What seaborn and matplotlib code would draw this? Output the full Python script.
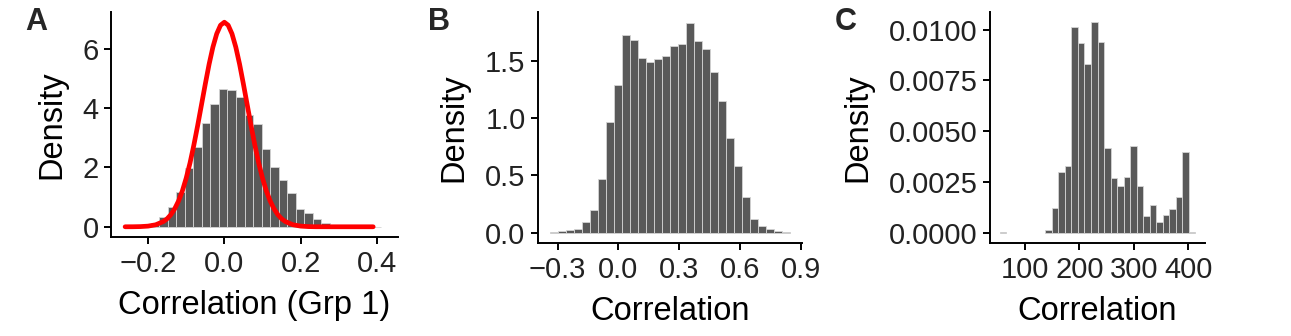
import matplotlib
matplotlib.use("Agg")
import matplotlib.pyplot as plt
import matplotlib.ticker as mticker
import numpy as np
import pandas as pd
import seaborn as sns

# ## Histogram values (density per bin, 30 bins each)

# Panel A: null correlations, group 1
a_range = (-0.2607, 0.4113)
a_density = [
    0.005, 0.01, 0.04, 0.14, 0.32, 0.66, 1.16, 1.97, 2.70, 3.51,
    4.15, 4.65, 4.62, 4.37, 3.76, 3.48, 2.61, 2.02, 1.57, 1.15,
    0.61, 0.46, 0.26, 0.12, 0.05, 0.02, 0.01, 0.005, 0.002, 0.002,
]
# red reference curve in panel A
curve_x = [
    -0.26, -0.24, -0.22, -0.20, -0.18, -0.16, -0.15, -0.14, -0.13, -0.12,
    -0.11, -0.10, -0.09, -0.08, -0.07, -0.06, -0.05, -0.04, -0.03, -0.02,
    -0.01, 0.00, 0.01, 0.02, 0.03, 0.04, 0.05, 0.06, 0.07, 0.08,
    0.09, 0.10, 0.11, 0.12, 0.13, 0.14, 0.15, 0.16, 0.18, 0.20,
    0.22, 0.24, 0.28, 0.32, 0.36, 0.39,
]
curve_y = [
    0.0, 0.001, 0.006, 0.022, 0.067, 0.175, 0.27, 0.41, 0.61, 0.87,
    1.21, 1.64, 2.15, 2.75, 3.41, 4.11, 4.81, 5.48, 6.06, 6.51,
    6.80, 6.90, 6.80, 6.51, 6.06, 5.48, 4.81, 4.11, 3.41, 2.75,
    2.15, 1.64, 1.21, 0.87, 0.61, 0.41, 0.27, 0.175, 0.067, 0.022,
    0.006, 0.001, 0.0, 0.0, 0.0, 0.0,
]

# Panel B: correlations
b_range = (-0.3375, 0.8475)
b_density = [
    0.003, 0.01, 0.02, 0.03, 0.09, 0.20, 0.47, 0.97, 1.29, 1.73,
    1.69, 1.53, 1.49, 1.52, 1.55, 1.63, 1.65, 1.84, 1.68, 1.61,
    1.41, 1.15, 0.83, 0.58, 0.31, 0.12, 0.06, 0.03, 0.01, 0.003,
]

# Panel C
c_range = (54.2, 412.4)
c_density = [
    0.00004, 0.0, 0.0, 0.0, 0.0, 0.0, 0.0, 0.00012, 0.00121, 0.00297,
    0.00326, 0.01016, 0.00934, 0.00831, 0.01036, 0.00939, 0.00418, 0.00268, 0.00228, 0.00276,
    0.00428, 0.00227, 0.00079, 0.00137, 0.00053, 0.00088, 0.00116, 0.00177, 0.00397, 0.00003,
]

sns.set_theme(style="ticks")
plt.rcParams["font.family"] = ["Liberation Sans", "DejaVu Sans"]
plt.rcParams.update({
    "axes.linewidth": 1.4,
    "xtick.major.width": 1.4,
    "ytick.major.width": 1.4,
    "xtick.major.size": 5,
    "ytick.major.size": 5,
    "xtick.major.pad": 4,
    "ytick.major.pad": 4,
    "xtick.labelsize": 21,
    "ytick.labelsize": 21,
    "xtick.color": "black",
    "ytick.color": "black",
    "xtick.labelcolor": "#222222",
    "ytick.labelcolor": "#222222",
    "axes.edgecolor": "black",
    "axes.labelcolor": "black",
    "axes.labelsize": 23.5,
    "axes.labelpad": 9,
})

W, H = 1291, 336
fig = plt.figure(figsize=(W / 100, H / 100), dpi=100)


def px_axes(left, right, top, bottom):
    return fig.add_axes([left / W, 1 - bottom / H, (right - left) / W, (bottom - top) / H])


def hist_panel(ax, rng, dens):
    edges = np.linspace(rng[0], rng[1], len(dens) + 1)
    centers = (edges[:-1] + edges[1:]) / 2
    d = pd.DataFrame({"x": centers, "w": dens})
    sns.histplot(
        data=d, x="x", weights="w", bins=len(dens), binrange=rng, stat="count",
        color="#595959", edgecolor="#d4d4d4", linewidth=0.6, alpha=1, ax=ax,
    )
    # empty bins: no outline
    for p in ax.patches:
        if p.get_height() == 0:
            p.set_linewidth(0)
    lo, hi = rng
    pad = (hi - lo) * 0.05
    ax.set_xlim(lo - pad, hi + pad)
    top = max(dens)
    ax.set_ylim(-top * 0.05, top * 1.05)
    ax.set_ylabel("Density", labelpad=11)
    sns.despine(ax=ax)


# A
ax_a = px_axes(111, 398, 12, 237)
hist_panel(ax_a, a_range, a_density)
sns.lineplot(x=curve_x, y=curve_y, color="red", linewidth=3.4, ax=ax_a)
ax_a.set_xlim(-0.297, 0.455)
ax_a.set_ylim(-0.345, 7.245)
ax_a.set_xticks([-0.2, 0.0, 0.2, 0.4])
ax_a.set_yticks([0, 2, 4, 6])
ax_a.set_xlabel("Correlation (Grp 1)")

# B
ax_b = px_axes(538, 802, 12, 243)
hist_panel(ax_b, b_range, b_density)
ax_b.set_xticks([-0.3, 0.0, 0.3, 0.6, 0.9])
ax_b.set_yticks([0.0, 0.5, 1.0, 1.5])
ax_b.yaxis.set_major_formatter(mticker.StrMethodFormatter("{x:.1f}"))
ax_b.set_xlabel("Correlation")

# C
ax_c = px_axes(990, 1205, 12, 243)
hist_panel(ax_c, c_range, c_density)
ax_c.set_xticks([100, 200, 300, 400])
ax_c.set_yticks([0.0, 0.0025, 0.005, 0.0075, 0.01])
ax_c.yaxis.set_major_formatter(mticker.StrMethodFormatter("{x:.4f}"))
ax_c.set_xlabel("Correlation")

for lab, x in [("A", 25), ("B", 428), ("C", 835)]:
    fig.text(x / W, 1 - 22 / H, lab, fontsize=22, fontweight="bold", va="center", ha="left")

fig.savefig("out.png", dpi=100)
